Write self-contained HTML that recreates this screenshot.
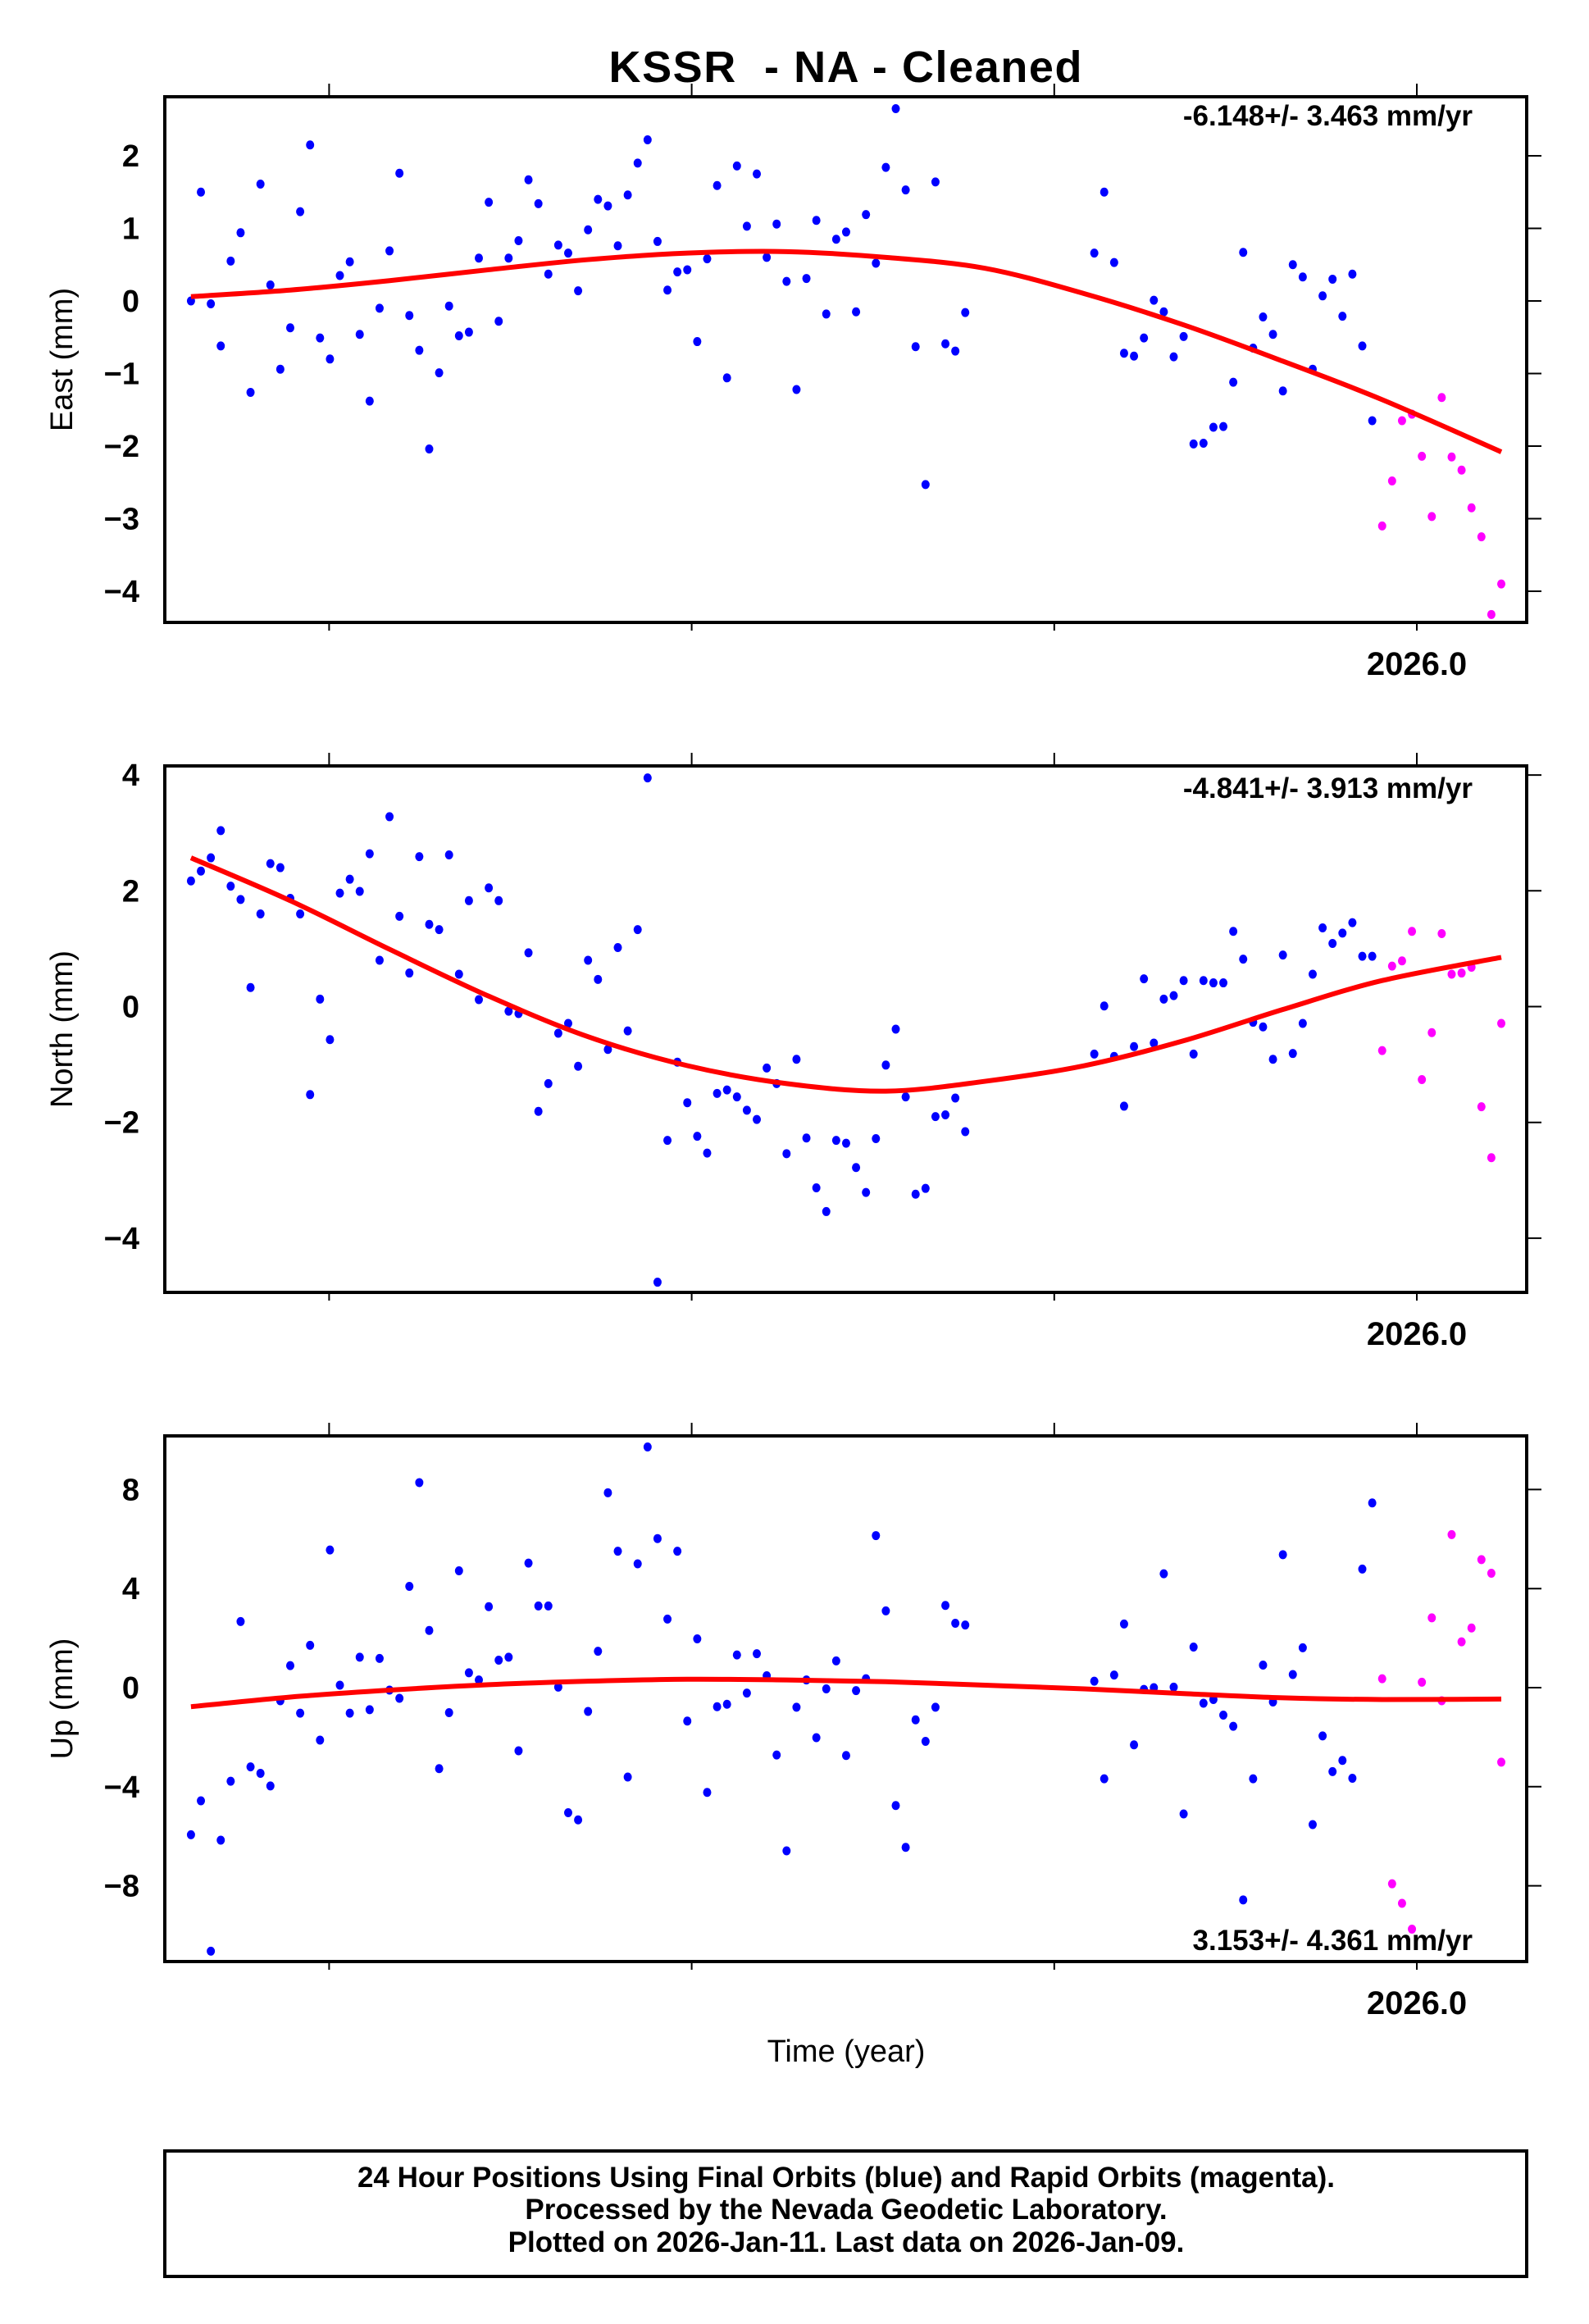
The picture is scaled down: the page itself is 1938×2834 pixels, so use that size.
<!DOCTYPE html>
<html><head><meta charset="utf-8"><style>
html,body{margin:0;padding:0;background:#fff}
svg{display:block}
text{font-family:"Liberation Sans",sans-serif}
</style></head><body>
<svg id="chart" width="1938" height="2834" viewBox="0 0 1938 2834" xmlns="http://www.w3.org/2000/svg">
<rect width="1938" height="2834" fill="#fff"/>
<text x="1031" y="100" text-anchor="middle" font-size="54" font-weight="bold" textLength="577" xml:space="preserve">KSSR  - NA - Cleaned</text>
<g id="plots"></g>
<text x="1032" y="2514" text-anchor="middle" font-size="38">Time (year)</text>
<rect x="201" y="2623" width="1661" height="153" fill="none" stroke="#000" stroke-width="4"/>
<text x="1032" y="2667" text-anchor="middle" font-size="35" font-weight="bold">24 Hour Positions Using Final Orbits (blue) and Rapid Orbits (magenta).</text>
<text x="1032" y="2706" text-anchor="middle" font-size="35" font-weight="bold">Processed by the Nevada Geodetic Laboratory.</text>
<text x="1032" y="2746" text-anchor="middle" font-size="35" font-weight="bold">Plotted on 2026-Jan-11. Last data on 2026-Jan-09.</text>
</svg>
<script>
// sample indices (10-day steps from first epoch)
const sampleIdx = [0,1,2,3,4,5,6,7,8,9,10,11,12,13,14,15,16,17,18,19,20,21,22,23,24,25,26,27,28,29,30,31,32,33,34,35,36,37,38,39,40,41,42,43,44,45,46,47,48,49,50,51,52,53,54,55,56,57,58,59,60,61,62,63,64,65,66,67,68,69,70,71,72,73,74,75,76,77,78,91,92,93,94,95,96,97,98,99,100,101,102,103,104,105,106,107,108,109,110,111,112,113,114,115,116,117,118,119,120,121,122,123,124,125,126,127,128,129,130,131,132];
const firstEpoch = 2022.619;
const rapidStartIdx = 120;
const eastValues = [0.00,1.50,-0.04,-0.62,0.55,0.94,-1.26,1.61,0.22,-0.94,-0.37,1.23,2.15,-0.51,-0.80,0.35,0.54,-0.46,-1.38,-0.10,0.69,1.76,-0.20,-0.68,-2.04,-0.99,-0.07,-0.48,-0.43,0.59,1.36,-0.28,0.59,0.83,1.67,1.34,0.37,0.77,0.66,0.14,0.98,1.40,1.31,0.76,1.46,1.90,2.22,0.82,0.15,0.40,0.43,-0.56,0.58,1.59,-1.06,1.86,1.03,1.75,0.60,1.06,0.27,-1.22,0.31,1.11,-0.18,0.85,0.95,-0.15,1.19,0.52,1.84,2.65,1.53,-0.63,-2.53,1.64,-0.59,-0.69,-0.16,0.66,1.50,0.53,-0.72,-0.76,-0.51,0.01,-0.15,-0.77,-0.49,-1.97,-1.96,-1.74,-1.73,-1.12,0.67,-0.65,-0.22,-0.46,-1.24,0.50,0.33,-0.94,0.07,0.30,-0.21,0.37,-0.62,-1.65,-3.10,-2.48,-1.65,-1.56,-2.14,-2.97,-1.33,-2.15,-2.33,-2.85,-3.25,-4.32,-3.90];
const northValues = [2.17,2.34,2.57,3.04,2.08,1.85,0.33,1.60,2.47,2.40,1.87,1.60,-1.52,0.13,-0.57,1.96,2.20,1.99,2.64,0.80,3.28,1.56,0.58,2.59,1.42,1.33,2.62,0.56,1.83,0.12,2.05,1.83,-0.08,-0.12,0.93,-1.81,-1.33,-0.46,-0.29,-1.03,0.80,0.47,-0.74,1.02,-0.42,1.33,3.95,-4.76,-2.31,-0.96,-1.66,-2.24,-2.53,-1.50,-1.44,-1.56,-1.79,-1.95,-1.06,-1.33,-2.54,-0.91,-2.27,-3.13,-3.54,-2.31,-2.36,-2.78,-3.21,-2.28,-1.01,-0.39,-1.56,-3.24,-3.14,-1.90,-1.87,-1.58,-2.16,-0.82,0.01,-0.86,-1.72,-0.69,0.48,-0.63,0.13,0.19,0.45,-0.82,0.45,0.41,0.41,1.30,0.82,-0.27,-0.35,-0.91,0.89,-0.81,-0.29,0.56,1.36,1.09,1.27,1.45,0.87,0.87,-0.76,0.70,0.79,1.30,-1.26,-0.45,1.26,0.56,0.58,0.68,-1.73,-2.61,-0.29];
const upValues = [-5.94,-4.57,-10.64,-6.16,-3.78,2.67,-3.20,-3.46,-3.97,-0.53,0.89,-1.03,1.71,-2.12,5.56,0.10,-1.03,1.23,-0.89,1.18,-0.10,-0.43,4.09,8.28,2.31,-3.27,-1.01,4.72,0.60,0.31,3.27,1.11,1.23,-2.55,5.03,3.30,3.30,0.02,-5.05,-5.34,-0.96,1.47,7.87,5.51,-3.61,5.00,9.72,6.02,2.77,5.51,-1.35,1.97,-4.23,-0.77,-0.67,1.32,-0.22,1.37,0.48,-2.72,-6.59,-0.79,0.31,-2.02,-0.05,1.08,-2.74,-0.12,0.36,6.14,3.10,-4.76,-6.45,-1.30,-2.17,-0.79,3.32,2.60,2.53,0.26,-3.68,0.51,2.57,-2.31,-0.07,0.00,4.60,0.02,-5.10,1.64,-0.63,-0.48,-1.11,-1.56,-8.57,-3.68,0.91,-0.58,5.37,0.53,1.61,-5.53,-1.95,-3.39,-2.94,-3.66,4.79,7.46,0.36,-7.92,-8.71,-9.75,0.22,2.82,-0.53,6.18,1.85,2.41,5.17,4.62,-3.01];
const fitIdx = [0,10,20,30,40,50,60,70,80,90,100,110,120,132];
const eastFit = [0.06,0.15,0.28,0.43,0.57,0.66,0.68,0.60,0.45,0.10,-0.33,-0.83,-1.36,-2.08];
const northFit = [2.57,1.83,0.99,0.18,-0.52,-1.02,-1.33,-1.46,-1.29,-1.02,-0.59,-0.05,0.45,0.85];
const upFit = [-0.77,-0.38,-0.10,0.12,0.26,0.34,0.31,0.24,0.10,-0.05,-0.24,-0.41,-0.48,-0.46];
const xTickYears = [2023,2024,2025,2026];
const xTickLabels = ["","","","2026.0"];
const eastTicks = [-4,-3,-2,-1,0,1,2];
const northTicks = [-4,-2,0,2,4];
const upTicks = [-8,-4,0,4,8];
const rateLabels = ["-6.148+/- 3.463 mm/yr","-4.841+/- 3.913 mm/yr","3.153+/- 4.361 mm/yr"];

const NS = "http://www.w3.org/2000/svg";
const L = 201, R = 1862;
const X0YEAR = 2026, X0PX = 1728, PXPERYR = 442.2;
function xOfYear(y){ return X0PX + (y - X0YEAR) * PXPERYR; }
function yearOfIdx(i){ return firstEpoch + i * 10 / 365.25; }
function mk(tag, attrs, parent){ const e = document.createElementNS(NS, tag); for (const k in attrs) e.setAttribute(k, attrs[k]); parent.appendChild(e); return e; }

const panels = [
  {key:"east", title:"East (mm)", top:118, bottom:759, zero:367, ppm:88.5, vals:eastValues, fit:eastFit, ticks:eastTicks, rate:rateLabels[0], rateY:153},
  {key:"north", title:"North (mm)", top:934, bottom:1576, zero:1227.5, ppm:70.6, vals:northValues, fit:northFit, ticks:northTicks, rate:rateLabels[1], rateY:973},
  {key:"up", title:"Up (mm)", top:1751, bottom:2392, zero:2058, ppm:30.2, vals:upValues, fit:upFit, ticks:upTicks, rate:rateLabels[2], rateY:2378}
];
const root = document.getElementById("plots");
panels.forEach(p => {
  const g = mk("g", {}, root);
  
  
  const yOf = v => p.zero - v * p.ppm;
  const clip = mk("clipPath", {id:"clip-" + p.key}, g);
  mk("rect", {x:L, y:p.top, width:R - L, height:p.bottom - p.top}, clip);
  p.ticks.forEach(t => {
    const y = yOf(t);
    const tk = mk("line", {x1:R, x2:R + 18, y1:y, y2:y, stroke:"#000", "stroke-width":2}, g);
    
    
    const lb = mk("text", {x:170, y:y + 13, "text-anchor":"end", "font-size":38, "font-weight":"bold"}, g);
    lb.textContent = (t < 0 ? "\u2212" + Math.abs(t) : String(t));
    
    
  });
  xTickYears.forEach((yr, i) => {
    const x = xOfYear(yr);
    const t1 = mk("line", {x1:x, x2:x, y1:p.top - 16, y2:p.top, stroke:"#000", "stroke-width":2}, g);
    
    
    const t2 = mk("line", {x1:x, x2:x, y1:p.bottom, y2:p.bottom + 10, stroke:"#000", "stroke-width":2}, g);
    
    
    if (xTickLabels[i]) {
      const lb = mk("text", {x:x, y:p.bottom + 64, "text-anchor":"middle", "font-size":40, "font-weight":"bold"}, g);
      lb.textContent = xTickLabels[i];
      
      
    }
  });
  const pg = mk("g", {"clip-path":"url(#clip-" + p.key + ")"}, g);
  
  
  sampleIdx.forEach((idx, k) => {
    const c = mk("ellipse", {cx:xOfYear(yearOfIdx(idx)), cy:yOf(p.vals[k]), rx:5, ry:5.5, fill: idx >= rapidStartIdx ? "#ff00ff" : "#0000ff"}, pg);
    
    
  });
  const pts = fitIdx.map((idx, k) => [xOfYear(yearOfIdx(idx)), yOf(p.fit[k])]);
  let d = "M" + pts[0][0] + "," + pts[0][1];
  for (let i = 0; i < pts.length - 1; i++) {
    const p0 = pts[Math.max(0, i - 1)], p1 = pts[i], p2 = pts[i + 1], p3 = pts[Math.min(pts.length - 1, i + 2)];
    const c1 = [p1[0] + (p2[0] - p0[0]) / 6, p1[1] + (p2[1] - p0[1]) / 6];
    const c2 = [p2[0] - (p3[0] - p1[0]) / 6, p2[1] - (p3[1] - p1[1]) / 6];
    d += " C" + c1[0] + "," + c1[1] + " " + c2[0] + "," + c2[1] + " " + p2[0] + "," + p2[1];
  }
  const curve = mk("path", {d:d, fill:"none", stroke:"#ff0000", "stroke-width":6, "clip-path":"url(#clip-" + p.key + ")"}, g);
  
  
  const fr = mk("rect", {x:L, y:p.top, width:R - L, height:p.bottom - p.top, fill:"none", stroke:"#000", "stroke-width":4}, g);
  
  
  const rt = mk("text", {x:1796, y:p.rateY, "text-anchor":"end", "font-size":35, "font-weight":"bold"}, g);
  rt.textContent = p.rate;
  
  
  const cy = (p.top + p.bottom) / 2;
  const yt = mk("text", {x:0, y:0, "text-anchor":"middle", "font-size":38, transform:"translate(88," + cy + ") rotate(-90)"}, g);
  yt.textContent = p.title;
  
  
});
</script>
</body></html>
